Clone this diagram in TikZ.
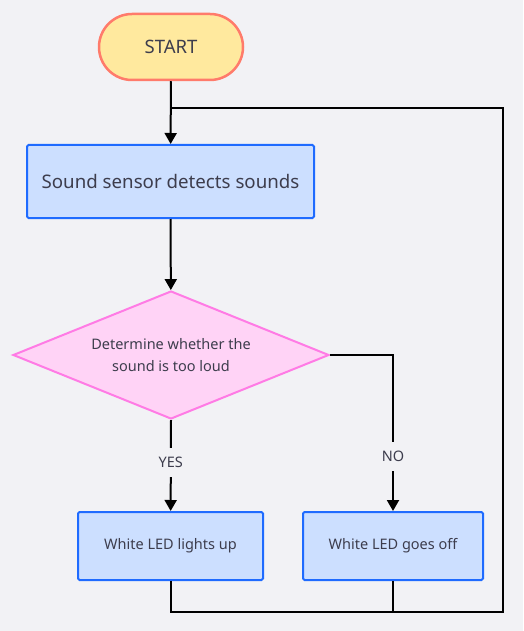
\documentclass[tikz,border=0pt]{standalone}
\usepackage{fontspec}
\setmainfont{Noto Sans}
\usetikzlibrary{shapes.geometric,arrows.meta}
\definecolor{bgc}{HTML}{F2F2F5}
\definecolor{txtc}{HTML}{3D3D4D}
\definecolor{startfill}{HTML}{FFE99E}
\definecolor{startline}{HTML}{FF7B6B}
\definecolor{boxfill}{HTML}{CCDFFF}
\definecolor{boxline}{HTML}{1F6BFF}
\definecolor{decfill}{HTML}{FFD3F6}
\definecolor{decline}{HTML}{FF7BE5}

\begin{document}
\begin{tikzpicture}[x=1pt, y=-1pt,
  terminal/.style = {draw=startline, fill=startfill, line width=2.5pt, rounded corners=33pt,
    minimum width=144pt, minimum height=66pt, text=txtc, font=\fontsize{18.5}{22}\selectfont},
  process/.style = {draw=boxline, fill=boxfill, line width=2pt, rounded corners=1.5pt,
    text=txtc, font=\fontsize{14.5}{17}\selectfont},
  decision/.style = {diamond, aspect=2.47, draw=decline, fill=decfill, line width=2pt, inner sep=0pt,
    minimum width=316pt, minimum height=128pt, text=txtc, align=center,
    font=\fontsize{14.5}{22}\selectfont},
  flow/.style = {draw, line width=2pt, -{Triangle[length=11pt,width=12pt]}},
  back/.style = {draw, line width=2pt},
  lbl/.style = {fill=bgc, text=txtc, inner xsep=4pt, inner ysep=9pt, font=\fontsize{14.5}{17}\selectfont}]
\fill [bgc] (0,0) rectangle (523,631);
\useasboundingbox (0,0) rectangle (523,631);
% nodes
\node [terminal] (start) at (171,47) {START};
\node [process, minimum width=287pt, minimum height=73pt, font=\fontsize{18.7}{22}\selectfont] (sense) at (170.5,181.5) {Sound sensor detects sounds};
\node [decision] (decide) at (171,355) {Determine whether the\\sound is too loud};
\node [process, minimum width=185pt, minimum height=68pt] (ledon) at (170.5,546) {White LED lights up};
\node [process, minimum width=180pt, minimum height=68pt] (ledoff) at (393,546) {White LED goes off};
% loop corners
\coordinate (join) at (171,108);
\coordinate (corner) at (503,612);
% connectors
\draw [flow] (start) -- (sense);
\draw [flow] (sense) -- (decide);
\draw [flow] (decide.south) -- node [lbl, pos=0.47] {YES} (ledon);
\draw [flow] (decide.east) -| node [lbl, pos=0.825] {NO} (ledoff);
\draw [back] (ledon) |- (corner) |- (join);
\draw [back] (ledoff) -- (ledoff |- corner);
\end{tikzpicture}
\end{document}
